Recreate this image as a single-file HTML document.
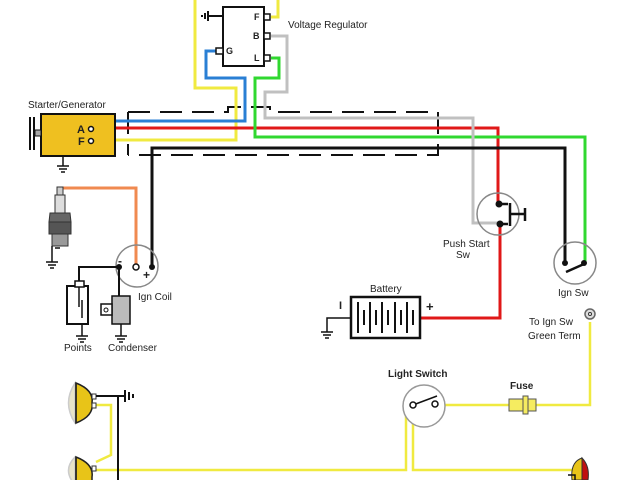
<!DOCTYPE html>
<html><head><meta charset="utf-8"><style>
html,body{margin:0;padding:0;background:#fff}
svg{display:block}
text{font-family:"Liberation Sans",Arial,sans-serif;font-size:10px;fill:#222}
</style></head><body>
<svg width="640" height="480" viewBox="0 0 640 480" xmlns="http://www.w3.org/2000/svg">
<rect width="640" height="480" fill="#fff"/>
<g fill="none" stroke-width="3" stroke-linejoin="miter">
<!-- dashed harness -->
<path d="M128,112 V155 M128,112 H228 V107 H270 V112 H438 V155 H128" stroke="#111" stroke-width="2" stroke-dasharray="22,10"/>
<!-- yellow -->
<path d="M195,0 V88 H236 V140 H93" stroke="#f0ea40"/>
<path d="M271,17 H278 V0" stroke="#f0ea40"/>
<!-- blue -->
<path d="M216,51 H206 V78 H245 V121 H102 Q95,122 92,128" stroke="#2a7fd4"/>
<!-- red -->
<path d="M93,128 H498 V204" stroke="#e01818"/>
<path d="M500,224 V318 H420" stroke="#e01818"/>
<!-- green -->
<path d="M271,58 H279 V78 H255 V137 H585 V262" stroke="#30d830"/>
<!-- grey -->
<path d="M271,36 H287 V92 H265 V118 H473 V223 H500" stroke="#c0c0c0"/>
<!-- black -->
<path d="M152,267 V148 H565 V262" stroke="#111"/>
<!-- orange -->
<path d="M60,188 H136 V266" stroke="#f08a50"/>
<!-- light circuit yellow -->
<path d="M590,322 V405 H536 M509,405 H436" stroke="#f0ea40" stroke-width="2.5"/>
<path d="M413,405 L406,412 V470 H96" stroke="#f0ea40" stroke-width="2.5"/>
<path d="M413,405 V470 H572" stroke="#f0ea40" stroke-width="2.5"/>
<path d="M93,405 H111 V455 L96,462" stroke="#f0ea40" stroke-width="2.5"/>
</g>
<!-- voltage regulator -->
<rect x="223" y="7" width="41" height="59" fill="#fff" stroke="#111" stroke-width="2"/>
<g fill="#fff" stroke="#111" stroke-width="1.5">
<rect x="264" y="14" width="6" height="6"/><rect x="264" y="33" width="6" height="6"/><rect x="264" y="55" width="6" height="6"/><rect x="216" y="48" width="7" height="6"/>
</g>
<path d="M222,16 H208 M208,11 V21 M205,13 V19 M202,15 V17" stroke="#111" stroke-width="2"/>
<g font-weight="bold" font-size="9"><text x="254" y="20" style="font-size:9px;font-weight:bold">F</text><text x="253" y="39" style="font-size:9px;font-weight:bold">B</text><text x="254" y="61" style="font-size:9px;font-weight:bold">L</text><text x="226" y="54" style="font-size:9px;font-weight:bold">G</text></g>
<text x="288" y="28">Voltage Regulator</text>
<!-- starter generator -->
<text x="28" y="108">Starter/Generator</text>
<rect x="41" y="114" width="74" height="42" fill="#efc020" stroke="#111" stroke-width="2"/>
<path d="M30,117 V150 M34,117 V150" stroke="#111" stroke-width="2"/>
<rect x="35" y="130" width="6" height="6" fill="#aaa" stroke="#111"/>
<circle cx="91" cy="129" r="2.5" fill="#fff" stroke="#111" stroke-width="1.5"/>
<circle cx="91" cy="141" r="2.5" fill="#fff" stroke="#111" stroke-width="1.5"/>
<text x="77" y="133" style="font-weight:bold;font-size:11px">A</text>
<text x="78" y="145" style="font-weight:bold;font-size:11px">F</text>
<path d="M63,157 V166 M57,166 H69 M59,169 H67 M61,172 H65" stroke="#111" stroke-width="1.5"/>
<!-- spark plug -->
<rect x="57" y="187" width="6" height="8" fill="#ccc" stroke="#333"/>
<rect x="55" y="195" width="10" height="18" fill="#ddd" stroke="#333"/>
<path d="M50,213 H70 L71,222 H49 Z" fill="#666" stroke="#333"/>
<rect x="49" y="222" width="22" height="12" fill="#555" stroke="#333"/>
<rect x="52" y="234" width="16" height="12" fill="#999" stroke="#333"/>
<path d="M52,246 V262 M60,248 H55 M46,262 H58 M48,265 H56 M50,268 H54" stroke="#111" stroke-width="1.5"/>
<!-- ign coil -->
<circle cx="137" cy="266" r="21" fill="none" stroke="#888" stroke-width="1.5"/>
<circle cx="136" cy="267" r="3" fill="#fff" stroke="#111" stroke-width="1.5"/>
<circle cx="152" cy="267" r="3" fill="#111"/>
<circle cx="119" cy="267" r="3" fill="#111"/>
<text x="118" y="265" style="font-weight:bold;font-size:12px">-</text>
<text x="143" y="279" style="font-weight:bold;font-size:12px">+</text>
<text x="138" y="300">Ign Coil</text>
<path d="M119,267 H79 V282 M119,267 V296" stroke="#111" stroke-width="2" fill="none"/>
<!-- points -->
<rect x="67" y="286" width="21" height="38" fill="#fff" stroke="#111" stroke-width="2"/>
<rect x="75" y="281" width="9" height="6" fill="#fff" stroke="#111" stroke-width="1.5"/>
<path d="M79,287 V307 M82,300 V318 M82,324 V336 M76,336 H88 M78,339 H86 M80,342 H84" stroke="#111" stroke-width="1.5"/>
<text x="64" y="351">Points</text>
<!-- condenser -->
<rect x="112" y="296" width="18" height="28" fill="#bbb" stroke="#111" stroke-width="1.5"/>
<rect x="101" y="304" width="11" height="11" fill="#fff" stroke="#111" stroke-width="1.5"/>
<circle cx="106" cy="310" r="2" fill="none" stroke="#111"/>
<path d="M121,324 V336 M115,336 H127 M117,339 H125 M119,342 H123" stroke="#111" stroke-width="1.5"/>
<text x="108" y="351">Condenser</text>
<!-- push start -->
<circle cx="498" cy="214" r="21" fill="none" stroke="#888" stroke-width="1.5"/>
<circle cx="499" cy="204" r="3.5" fill="#111"/><circle cx="500" cy="224" r="3.5" fill="#111"/>
<path d="M500,204 H508 M502,224 H508 M510,203 V226 M510,214 H525 M525,208 V221" stroke="#111" stroke-width="2.5"/>
<text x="443" y="247">Push Start</text>
<text x="456" y="258">Sw</text>
<!-- ign sw -->
<circle cx="575" cy="263" r="21" fill="none" stroke="#888" stroke-width="1.5"/>
<circle cx="565" cy="263" r="3" fill="#111"/><circle cx="584" cy="263" r="3" fill="#111"/>
<path d="M566,272 L584,264" stroke="#111" stroke-width="2.5"/>
<text x="558" y="296">Ign Sw</text>
<!-- battery -->
<text x="370" y="292">Battery</text>
<rect x="351" y="297" width="69" height="41" fill="#fff" stroke="#111" stroke-width="2.5"/>
<g stroke="#111" stroke-width="2">
<path d="M358,302 V333 M364,310 V325 M370,302 V333 M376,310 V325 M382,302 V333 M388,310 V325 M395,302 V333 M401,310 V325 M407,302 V333 M413,310 V325"/>
</g>
<text x="339" y="309" style="font-weight:bold;font-size:11px">I</text>
<text x="426" y="311" style="font-weight:bold;font-size:13px">+</text>
<path d="M351,318 H327 V332 M321,332 H333 M323,335 H331 M325,338 H329" stroke="#111" stroke-width="1.5" fill="none"/>
<!-- ring terminal -->
<text x="529" y="325">To Ign Sw</text>
<text x="528" y="339">Green Term</text>
<circle cx="590" cy="314" r="5" fill="#ddd" stroke="#666" stroke-width="1.5"/>
<circle cx="590" cy="314" r="1.5" fill="#fff" stroke="#333"/>
<!-- light switch -->
<text x="388" y="377" style="font-weight:bold">Light Switch</text>
<circle cx="424" cy="406" r="21" fill="#fff" stroke="#999" stroke-width="1.5"/>
<path d="M413,405 L437,396" stroke="#111" stroke-width="1.5"/>
<circle cx="413" cy="405" r="3" fill="#fff" stroke="#111" stroke-width="1.5"/>
<circle cx="435" cy="404" r="3" fill="#fff" stroke="#111" stroke-width="1.5"/>
<!-- fuse -->
<text x="510" y="389" style="font-weight:bold">Fuse</text>
<rect x="509" y="399" width="27" height="12" fill="#f5ec60" stroke="#555"/>
<rect x="523" y="396" width="5" height="18" fill="#f5ec60" stroke="#555"/>
<!-- headlights -->
<g stroke="#222" stroke-width="1.5">
<path d="M75,383 Q62,403 75,423 Z" fill="#e8e4c8" stroke="#ccc"/>
<path d="M76,383 Q94,390 92,403 Q94,416 76,423 Z" fill="#e8c418"/>
<path d="M76,383 V423" />
<path d="M75,457 Q62,470 75,485 Z" fill="#e8e4c8" stroke="#ccc"/>
<path d="M76,457 Q94,464 92,477 L92,485 L76,485 Z" fill="#e8c418"/>
<path d="M76,457 V485"/>
</g>
<rect x="92" y="394" width="4" height="5" fill="#fff" stroke="#333"/>
<rect x="92" y="403" width="4" height="5" fill="#fff" stroke="#333"/>
<rect x="92" y="466" width="4" height="5" fill="#fff" stroke="#333"/>
<path d="M96,396 H125 M125,390 V402 M129,392 V400 M133,394 V398 M118,396 V480" stroke="#111" stroke-width="2" fill="none"/>
<!-- tail light -->
<path d="M582,458 Q570,462 572,480 L582,480 Z" fill="#e8c418" stroke="#333"/>
<path d="M582,458 Q590,466 588,480 L582,480 Z" fill="#c01010" stroke="#333"/>
<path d="M568,475 H575 V480" stroke="#111" stroke-width="1.5" fill="none"/>
</svg>
</body></html>
